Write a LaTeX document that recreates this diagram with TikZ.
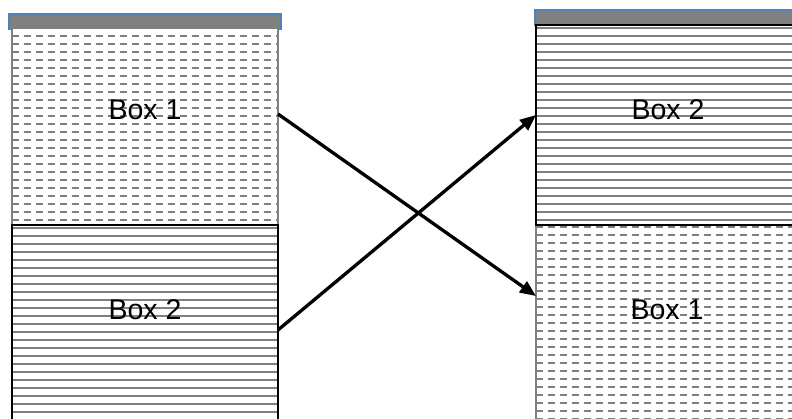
\documentclass[tikz,border=0pt]{standalone}
\usepackage{fontspec}
\setmainfont{Liberation Sans}
\usetikzlibrary{arrows.meta,calc}
\definecolor{hatchgray}{RGB}{128,128,128}
\definecolor{bargray}{RGB}{128,128,128}
\definecolor{barblue}{RGB}{79,129,189}

\begin{document}
\begin{tikzpicture}[x=1pt,y=-1pt,
  bar/.style={draw=barblue, fill=bargray, line width=1.5pt,
    inner sep=0pt, outer sep=0pt},
  panel/.style={inner sep=0pt, outer sep=0pt, line width=2.2pt, fill=white},
  hline/.style={draw=hatchgray, line width=1.7pt},
  dline/.style={hline, dash pattern=on 6.5pt off 5.5pt},
  % panel filled with solid horizontal rules: #1 = first rule below top, #2 = spacing
  ruledpanel/.style 2 args={panel, draw=black, path picture={
    \foreach \k in {0,...,30}
      \draw[hline]
        ([yshift={-(#1)-\k*(#2)}]path picture bounding box.north west) --
        ([yshift={-(#1)-\k*(#2)}]path picture bounding box.north east);}},
  % panel filled with dashed horizontal rules
  dashedpanel/.style 2 args={panel, draw=hatchgray, path picture={
    \foreach \k in {0,...,30}
      \draw[dline]
        ([yshift={-(#1)-\k*(#2)}]path picture bounding box.north west) --
        ([yshift={-(#1)-\k*(#2)}]path picture bounding box.north east);}},
  boxlabel/.style={inner sep=0pt, font=\fontsize{28.5}{32}\selectfont},
  conn/.style={draw=black, line width=3.3pt, -{Triangle[length=16pt,width=13pt]}}
]
\useasboundingbox (0,0) rectangle (792,419);
\clip (0,0) rectangle (792,419);

% header bars
\node[bar, minimum width=272pt, minimum height=15pt] (lbar) at (145,21.5) {};
\node[bar, minimum width=268pt, minimum height=15pt] (rbar) at (669,17.5) {};

% left column
\node[dashedpanel={8pt}{8pt}, minimum width=266pt, minimum height=197pt]
  (lb1) at (145,126.5) {};
\node[ruledpanel={2.7pt}{8pt}, minimum width=266pt, minimum height=197pt]
  (lb2) at (145,323.5) {};

% right column
\node[dashedpanel={1.7pt}{8pt}, minimum width=266pt, minimum height=197pt]
  (rb1) at (669,323.5) {};
\node[ruledpanel={2.7pt}{8pt}, minimum width=266pt, minimum height=200pt]
  (rb2) at (669,125) {};

% labels
\node[boxlabel] (tl1) at ($(lb1.north)+(0,82)$) {Box 1};
\node[boxlabel] (tl2) at ($(lb2.north)+(0,85)$) {Box 2};
\node[boxlabel] (tr2) at ($(rb2.north)+(-1,85)$) {Box 2};
\node[boxlabel] (tr1) at ($(rb1.north)+(-2,85)$) {Box 1};

% crossing connectors
\draw[conn] ([yshift=12.5pt]lb1.east) -- ([yshift=27.5pt]rb1.west);
\draw[conn] ([yshift=-6.5pt]lb2.east) -- ([yshift=10pt]rb2.west);
\end{tikzpicture}
\end{document}
